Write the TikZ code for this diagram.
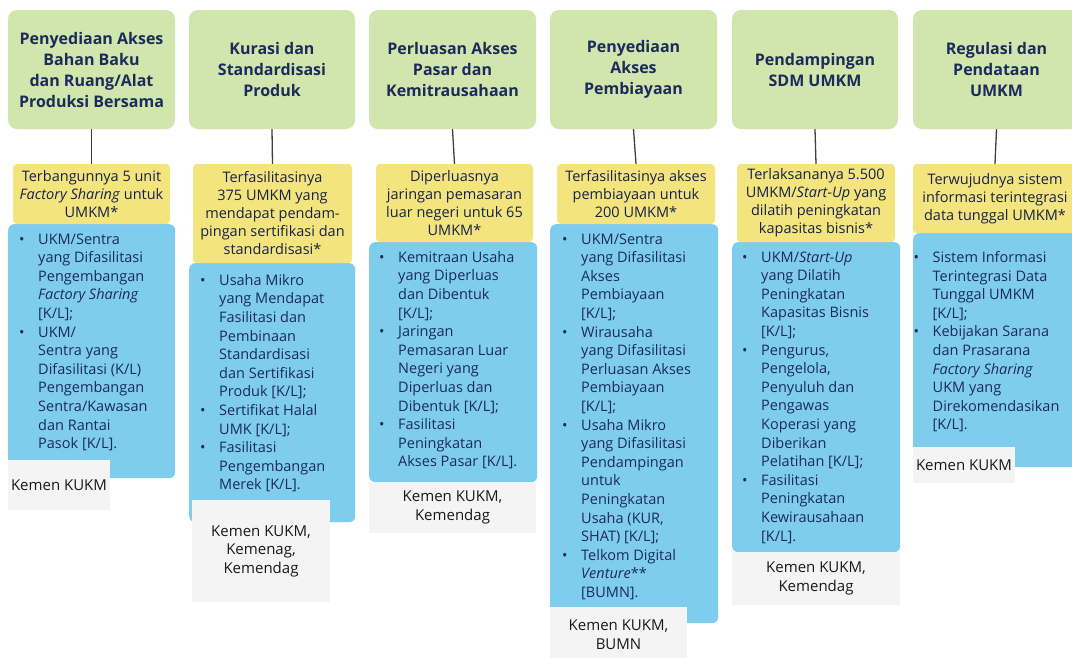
\documentclass[tikz,border=0pt]{standalone}
\usepackage{fontspec}
\setmainfont{Open Sans}
\usetikzlibrary{calc}
\definecolor{hijau}{RGB}{208,230,172}
\definecolor{kuning}{RGB}{243,228,125}
\definecolor{biru}{RGB}{126,205,238}
\definecolor{abu}{RGB}{244,244,244}
\definecolor{tinta}{RGB}{28,42,92}
\newcommand{\bul}{\makebox[19pt][l]{\textbullet}}
\newcommand{\ind}{\hspace*{19pt}}
\tikzset{
  tema/.style={fill=hijau, rounded corners=9pt, minimum width=167pt, minimum height=119pt,
    font=\fontsize{16}{21}\selectfont\bfseries, text=tinta, align=center, inner sep=0pt},
  sasaran/.style={fill=kuning, rounded corners=4pt, font=\fontsize{14.5}{18}\selectfont,
    text=tinta!80!black, align=center, inner sep=0pt},
  kotak/.style={fill=biru, rounded corners=6pt, anchor=north west, inner sep=0pt},
  isi/.style={font=\fontsize{14.5}{18.6}\selectfont, text=tinta, align=left, inner sep=0pt, anchor=west},
  lembaga/.style={fill=abu, font=\fontsize{15}{18.5}\selectfont, text=black!90, align=center, inner sep=0pt},
  garis/.style={draw=black!75, line width=1.3pt}
}
\begin{document}
\begin{tikzpicture}[x=1pt,y=-1pt]
\clip (0,0) rectangle (1072,657);
\fill[white] (0,0) rectangle (1072,657);
% tema
\node[tema] (h1) at (91.5,69.5) {Penyediaan Akses\\Bahan Baku\\dan Ruang/Alat\\Produksi Bersama};
\node[tema, minimum width=166pt] (h2) at (272,69.5) {Kurasi dan\\Standardisasi\\Produk};
\node[tema] (h3) at (452.5,69.5) {Perluasan Akses\\Pasar dan\\Kemitrausahaan};
\node[tema] (h4) at (633.5,69.5) {Penyediaan\\Akses\\Pembiayaan};
\node[tema, minimum width=166pt] (h5) at (815,69.5) {Pendampingan\\SDM UMKM};
\node[tema] (h6) at (996.5,69.5) {Regulasi dan\\Pendataan\\UMKM};
% kotak biru
\node[kotak, minimum width=167pt, minimum height=254pt] (b1) at (8,224) {};
\node[kotak, minimum width=166pt, minimum height=259pt] (b2) at (189,263) {};
\node[kotak, minimum width=168pt, minimum height=240pt] (b3) at (369,242) {};
\node[kotak, minimum width=168pt, minimum height=399pt] (b4) at (550,224) {};
\node[kotak, minimum width=168pt, minimum height=310pt] (b5) at (732,242) {};
\node[kotak, minimum width=167pt, minimum height=234pt] (b6) at (913,233) {};
% sasaran
\node[sasaran, minimum width=157pt, minimum height=60pt] (y1) at (91.5,194)
  {Terbangunnya 5 unit\\\textit{Factory Sharing} untuk\\UMKM*};
\node[sasaran, minimum width=159pt, minimum height=99pt] (y2) at (272.5,213.5)
  {Terfasilitasinya\\375 UMKM yang\\mendapat pendam-\\pingan sertifikasi dan\\standardisasi*};
\node[sasaran, minimum width=157pt, minimum height=78pt] (y3) at (454.5,203)
  {Diperluasnya\\jaringan pemasaran\\luar negeri untuk 65\\UMKM*};
\node[sasaran, minimum width=158pt, minimum height=60pt] (y4) at (636,194)
  {Terfasilitasinya akses\\pembiayaan untuk\\200 UMKM*};
\node[sasaran, minimum width=158pt, minimum height=78pt] (y5) at (816,203)
  {Terlaksananya 5.500\\UMKM/\textit{Start-Up} yang\\dilatih peningkatan\\kapasitas bisnis*};
\node[sasaran, minimum width=164pt, minimum height=69pt] (y6) at (995,198.5)
  {Terwujudnya sistem\\informasi terintegrasi\\data tunggal UMKM*};
\foreach \i in {1,...,6}
  \draw[garis] (h\i.south) -- (y\i.north);
% isi kotak biru
\node[isi] (t1) at (19,342.3) {\bul UKM/Sentra\\\ind yang Difasilitasi\\\ind Pengembangan\\
  \ind\textit{Factory Sharing}\\\ind [K/L];\\\bul UKM/\\\ind Sentra yang\\\ind Difasilitasi (K/L)\\
  \ind Pengembangan\\\ind Sentra/Kawasan\\\ind dan Rantai\\\ind Pasok [K/L].};
\node[isi] (t2) at (200,383.3) {\bul Usaha Mikro\\\ind yang Mendapat\\\ind Fasilitasi dan\\
  \ind Pembinaan\\\ind Standardisasi\\\ind dan Sertifikasi\\\ind Produk [K/L];\\
  \bul Sertifikat Halal\\\ind UMK [K/L];\\\bul Fasilitasi\\\ind Pengembangan\\\ind Merek [K/L].};
\node[isi] (t3) at (379,360.3) {\bul Kemitraan Usaha\\\ind yang Diperluas\\\ind dan Dibentuk\\
  \ind [K/L];\\\bul Jaringan\\\ind Pemasaran Luar\\\ind Negeri yang\\\ind Diperluas dan\\
  \ind Dibentuk [K/L];\\\bul Fasilitasi\\\ind Peningkatan\\\ind Akses Pasar [K/L].};
\node[isi] (t4) at (562,416.7) {\bul UKM/Sentra\\\ind yang Difasilitasi\\\ind Akses\\
  \ind Pembiayaan\\\ind [K/L];\\\bul Wirausaha\\\ind yang Difasilitasi\\\ind Perluasan Akses\\
  \ind Pembiayaan\\\ind [K/L];\\\bul Usaha Mikro\\\ind yang Difasilitasi\\\ind Pendampingan\\
  \ind untuk\\\ind Peningkatan\\\ind Usaha (KUR,\\\ind SHAT) [K/L];\\\bul Telkom Digital\\
  \ind\textit{Venture}**\\\ind [BUMN].};
\node[isi] (t5) at (742,397.5) {\bul UKM/\textit{Start-Up}\\\ind yang Dilatih\\\ind Peningkatan\\
  \ind Kapasitas Bisnis\\\ind [K/L];\\\bul Pengurus,\\\ind Pengelola,\\\ind Penyuluh dan\\
  \ind Pengawas\\\ind Koperasi yang\\\ind Diberikan\\\ind Pelatihan [K/L];\\\bul Fasilitasi\\
  \ind Peningkatan\\\ind Kewirausahaan\\\ind [K/L].};
\node[isi] (t6) at (913.5,341.7) {\bul Sistem Informasi\\\ind Terintegrasi Data\\\ind Tunggal UMKM\\
  \ind [K/L];\\\bul Kebijakan Sarana\\\ind dan Prasarana\\\ind\textit{Factory Sharing}\\
  \ind UKM yang\\\ind Direkomendasikan\\\ind [K/L].};
% lembaga
\node[lembaga, minimum width=102pt, minimum height=50pt] (k1) at (59,485) {Kemen KUKM};
\node[lembaga, minimum width=138pt, minimum height=102pt] (k2) at (261,551) {Kemen KUKM,\\Kemenag,\\Kemendag};
\node[lembaga, minimum width=167pt, minimum height=51pt] (k3) at (452.5,507.5) {Kemen KUKM,\\Kemendag};
\node[lembaga, minimum width=137pt, minimum height=55pt] (k4) at (618.5,634.5) {Kemen KUKM,\\BUMN};
\node[lembaga, minimum width=168pt, minimum height=53pt] (k5) at (816,578.5) {Kemen KUKM,\\Kemendag};
\node[lembaga, minimum width=102pt, minimum height=36pt] (k6) at (964,465) {Kemen KUKM};
\end{tikzpicture}
\end{document}
